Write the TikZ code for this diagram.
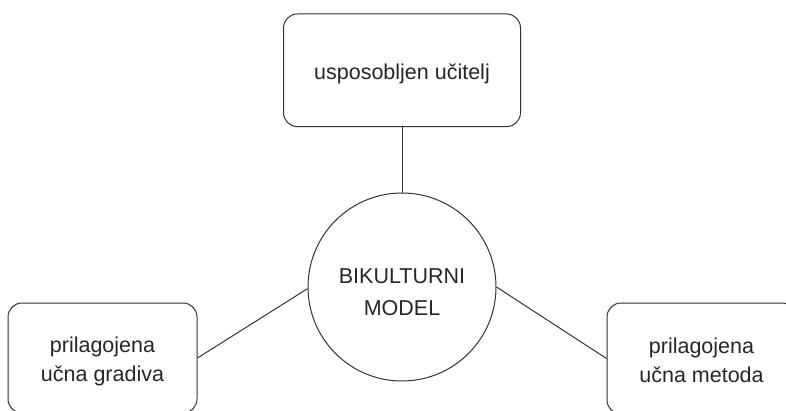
\documentclass[tikz,border=0pt]{standalone}
\usepackage{fontspec}
\setmainfont{Liberation Sans}
\begin{document}
\begin{tikzpicture}[x=1pt,y=-1pt,
  txt/.style={text=black!85, font=\fontsize{21.5}{29}\selectfont, align=center, inner sep=0pt},
  roundbox/.style={draw=black!80, line width=1pt, rounded corners=14pt, minimum width=#1, inner sep=0pt},
  link/.style={draw=black!80, line width=1pt}]
\useasboundingbox (0,0) rectangle (786,410);
\clip (0,0) rectangle (786,410);
\node[roundbox=237pt, minimum height=112.7pt,
      label={[txt, yshift=-3.5pt]center:usposobljen učitelj}] (top) at (402,70.3) {};
\node[draw=black!80, line width=1pt, circle, minimum size=188pt, inner sep=0pt,
      label={[txt, font=\fontsize{21.5}{32}\selectfont, yshift=-5pt]center:BIKULTURNI\\MODEL}] (circ) at (402,287) {};
\node[roundbox=189pt, minimum height=110pt,
      label={[txt, yshift=-3pt]center:prilagojena\\učna gradiva}] (left) at (102.5,358) {};
\node[roundbox=189pt, minimum height=111pt,
      label={[txt, yshift=-2pt]center:prilagojena\\učna metoda}] (right) at (701.5,358.5) {};
\draw[link] (top.south) -- (circ.north);
\draw[link] (left.east) -- (circ.181);
\draw[link] (right.west) -- (circ.east);
\end{tikzpicture}
\end{document}
